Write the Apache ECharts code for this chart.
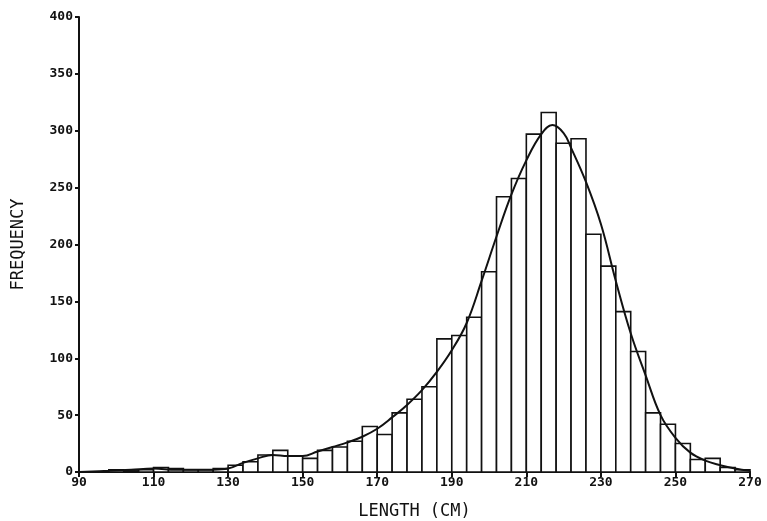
<!DOCTYPE html>
<html><head><meta charset="utf-8">
<script src="https://cdn.jsdelivr.net/npm/echarts@6/dist/echarts.min.js"></script>
<style>html,body{margin:0;padding:0;background:#fff}#c{width:767px;height:521px}</style>
</head><body><div id="c"></div>
<script>
// Histogram bins: left edges (cm), width 4 cm
const binStarts = [90,94,98,102,106,110,114,118,122,126,130,134,138,142,146,150,154,158,162,166,170,174,178,182,186,190,194,198,202,206,210,214,218,222,226,230,234,238,242,246,250,254,258,262,266];
const binWidth = 4;
const frequencies = [0,0,2,1,2,4,3,2,2,3,6,9,15,19,14,12,19,22,27,40,33,52,64,75,117,120,136,176,242,258,297,316,289,293,209,181,141,106,52,42,25,11,12,4,2];
// Fitted curve (x in cm, frequency)
const curveX = [90,98,104,110,116,122,126,130,134,138,142,146,150,154,158,162,166,170,174,178,182,186,190,194,198,202,206,210,214,217,220,222,226,230,234,238,242,246,250,254,258,262,266,270];
const curveY = [0,1,2,3,2,2,2,3,8,12,15,14,14,18,22,26,31,38,48,59,72,88,107,131,168,207,244,274,297,305,298,285,255,218,168,122,85,50,30,17,10,6,3,1];
const xTicks = [90,110,130,150,170,190,210,230,250,270];
const yTicks = [0,50,100,150,200,250,300,350,400];

const font = '"DejaVu Sans Mono", monospace';
const chart = echarts.init(document.getElementById('c'), null, {renderer:'canvas'});
const barData = binStarts.map((s,i)=>[s, s+binWidth, frequencies[i]]);
chart.setOption({
  animation:false,
  backgroundColor:'#fff',
  grid:{left:79,right:17,top:17,bottom:49,containLabel:false,outerBoundsMode:'none'},
  xAxis:{type:'value',min:90,max:270,interval:20,
    name:'LENGTH (CM)',nameLocation:'middle',nameGap:31,
    nameTextStyle:{fontFamily:font,fontSize:17,color:'#111'},
    axisLine:{lineStyle:{color:'#111',width:2}},
    axisTick:{inside:false,length:5,lineStyle:{color:'#111',width:2}},
    axisLabel:{fontFamily:font,fontSize:13,fontWeight:'bold',color:'#111',margin:4,
      formatter:v=>xTicks.includes(v)?String(v):''},
    splitLine:{show:false}},
  yAxis:{type:'value',min:0,max:400,interval:50,
    name:'FREQUENCY',nameLocation:'middle',nameGap:52,nameRotate:90,
    nameTextStyle:{fontFamily:font,fontSize:17,color:'#111'},
    axisLine:{show:true,lineStyle:{color:'#111',width:2}},
    axisTick:{show:true,inside:false,length:4,lineStyle:{color:'#111',width:2}},
    axisLabel:{fontFamily:font,fontSize:13,fontWeight:'bold',color:'#111',margin:6,
      formatter:v=>yTicks.includes(v)?String(v):''},
    splitLine:{show:false}},
  series:[
    {type:'custom',data:barData,encode:{x:[0,1],y:2},
      renderItem:function(params,api){
        const p0=api.coord([api.value(0),api.value(2)]);
        const p1=api.coord([api.value(1),0]);
        return {type:'rect',shape:{x:p0[0],y:p0[1],width:p1[0]-p0[0],height:p1[1]-p0[1]},
          style:{fill:'#fff',stroke:'#111',lineWidth:1.6}};
      },z:2},
    {type:'line',data:curveX.map((x,i)=>[x,curveY[i]]),smooth:0.4,symbol:'none',
      lineStyle:{color:'#111',width:2},z:3}
  ]
});
</script></body></html>
